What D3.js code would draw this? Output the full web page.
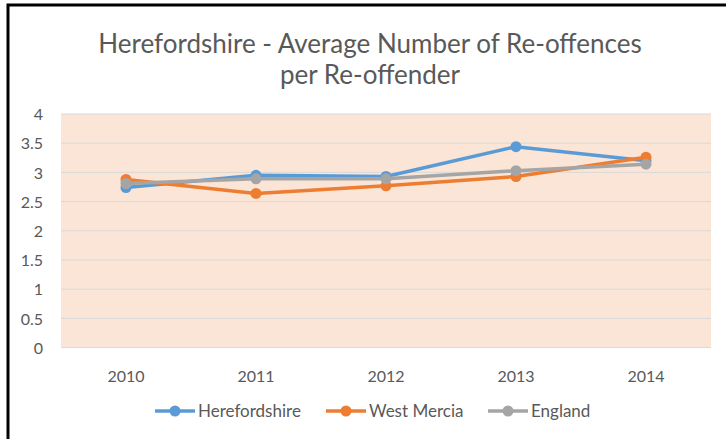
<!DOCTYPE html>
<html>
<head>
<meta charset="utf-8">
<script src="https://cdn.jsdelivr.net/npm/d3@7"></script>
<style>
  body { margin: 0; background: #fff; }
  svg text { font-family: Lato, "Open Sans", sans-serif; fill: #595959; }
</style>
</head>
<body>
<div id="chart"></div>
<script>
let width = 726;
let height = 439;

const years = ["2010", "2011", "2012", "2013", "2014"];
const herefordshire = [2.74, 2.95, 2.93, 3.44, 3.20];
const westMercia = [2.88, 2.64, 2.77, 2.93, 3.26];
const england = [2.81, 2.89, 2.89, 3.03, 3.14];
const yTicks = [0, 0.5, 1, 1.5, 2, 2.5, 3, 3.5, 4];

const series = [
  {name: "Herefordshire", values: herefordshire, color: "#5B9BD5"},
  {name: "West Mercia", values: westMercia, color: "#ED7D31"},
  {name: "England", values: england, color: "#A5A5A5"}
];

let svg = d3.select("#chart")
            .append("svg")
            .attr("width", width)
            .attr("height", height);

// outer frame (only left + top edges visible in the crop)
svg.append("path")
  .attr("d", "M8,439 V5 H726")
  .attr("fill", "none")
  .attr("stroke", "#000")
  .attr("stroke-width", 3);

let x = d3.scaleBand().domain(years).range([61, 711]);
let y = d3.scaleLinear().domain([0, 4]).range([347.6, 114]);

svg.append("rect")
  .attr("x", 61).attr("y", y(4))
  .attr("width", 650).attr("height", y(0) - y(4))
  .attr("fill", "#FBE5D6");

// gridlines
svg.append("g")
  .selectAll("line")
  .data(yTicks)
  .enter()
  .append("line")
  .attr("x1", 61).attr("x2", 711)
  .attr("y1", d => y(d)).attr("y2", d => y(d))
  .attr("stroke", "#D9D9D9")
  .attr("stroke-width", 1);

let yAxis = svg.append("g")
  .attr("transform", "translate(46,0)")
  .call(d3.axisLeft(y).tickValues(yTicks).tickSize(0).tickFormat(d => d));
yAxis.select(".domain").remove();
yAxis.selectAll("text").attr("font-size", 16).attr("dx", 0).attr("dy", "0.35em")
  .attr("font-family", "Lato, sans-serif");

let xAxis = svg.append("g")
  .attr("transform", `translate(0,${y(0)})`)
  .call(d3.axisBottom(x).tickSize(0));
xAxis.select(".domain").remove();
xAxis.selectAll("text").attr("font-size", 16).attr("y", 23)
  .attr("font-family", "Lato, sans-serif");

let line = d3.line()
  .x((d, i) => x(years[i]) + x.bandwidth() / 2)
  .y(d => y(d));

series.forEach(s => {
  let g = svg.append("g");
  g.append("path")
    .attr("d", line(s.values))
    .attr("fill", "none")
    .attr("stroke", s.color)
    .attr("stroke-width", 3.5)
    .attr("stroke-linejoin", "round");
  g.selectAll("circle")
    .data(s.values)
    .enter()
    .append("circle")
    .attr("cx", (d, i) => x(years[i]) + x.bandwidth() / 2)
    .attr("cy", d => y(d))
    .attr("r", 5.5)
    .attr("fill", s.color);
});

// title
let title = svg.append("text")
  .attr("text-anchor", "middle")
  .attr("font-size", 26);
title.append("tspan").attr("x", 370).attr("y", 53).text("Herefordshire - Average Number of Re-offences");
title.append("tspan").attr("x", 370).attr("y", 84).text("per Re-offender");

// legend
const legendX = [155, 326, 488];
let legend = svg.append("g")
  .selectAll("g")
  .data(series)
  .enter()
  .append("g")
  .attr("transform", (d, i) => `translate(${legendX[i]},411)`);
legend.append("line")
  .attr("x1", 0).attr("x2", 40)
  .attr("stroke", d => d.color)
  .attr("stroke-width", 3.5);
legend.append("circle")
  .attr("cx", 20).attr("r", 5.5)
  .attr("fill", d => d.color);
legend.append("text")
  .attr("x", 43).attr("dy", "0.35em")
  .attr("font-size", 17)
  .text(d => d.name);
</script>
</body>
</html>
